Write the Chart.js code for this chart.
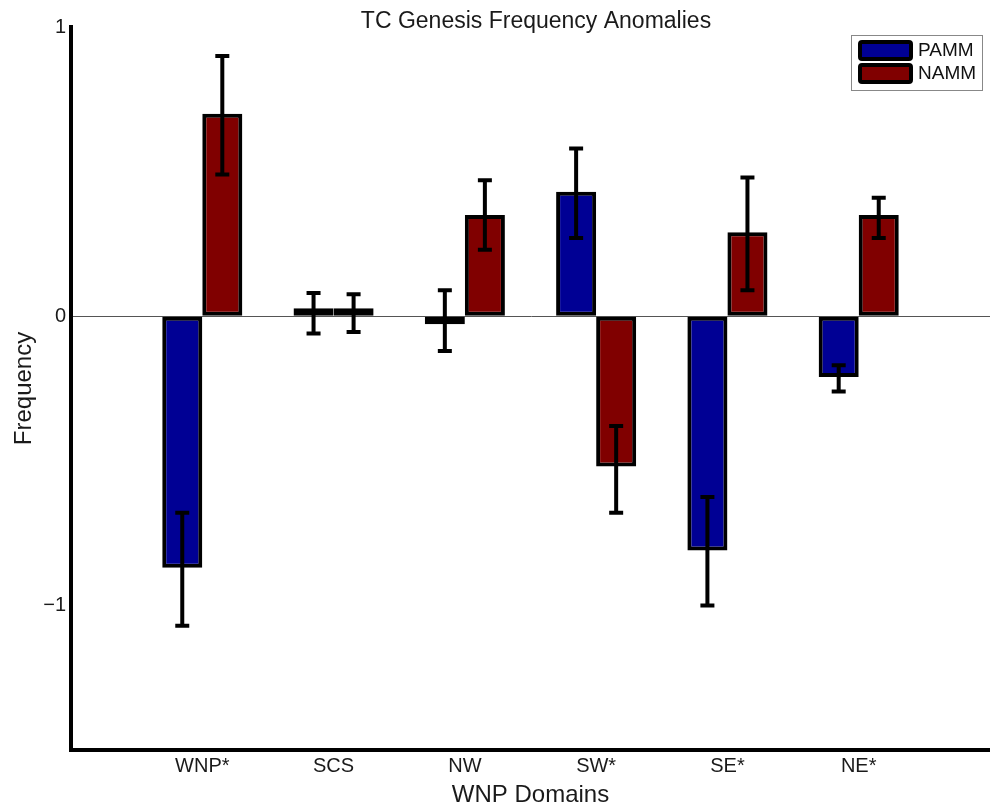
<html lang="en">
<head>
  <meta charset="UTF-8">
  <title>TC Genesis Frequency Anomalies</title>
  <script src="https://cdn.jsdelivr.net/npm/chart.js"></script>
  <style>
    body, html {
      margin: 0;
      padding: 0;
      background-color: #ffffff;
      font-family: "Liberation Sans", Arial, sans-serif;
    }
    .chart-container {
      width: 990px;
      height: 810px;
    }
  </style>
</head>
<body>
  <div class="chart-container"><canvas id="myChart" width="990" height="810"></canvas></div>

  <script>
    // data
    const categories = ['WNP*', 'SCS', 'NW', 'SW*', 'SE*', 'NE*'];
    const pamm = [-0.87, 0.01, -0.01, 0.43, -0.81, -0.21];
    const namm = [0.70, 0.01, 0.35, -0.52, 0.29, 0.35];
    const pammLow = [-1.07, -0.06, -0.12, 0.27, -1.00, -0.26];
    const pammHigh = [-0.68, 0.08, 0.09, 0.58, -0.625, -0.17];
    const nammLow = [0.49, -0.055, 0.23, -0.68, 0.09, 0.27];
    const nammHigh = [0.90, 0.076, 0.47, -0.38, 0.48, 0.41];
    const yTicks = [-1, 0, 1];

    // blank slots at both ends so the axis runs a bit past the outer groups
    const labels = [''].concat(categories, ['']);
    const pad = arr => [null].concat(arr, [null]);

    const FONT = '"Liberation Sans", Arial, sans-serif';

    const errorBars = {
      id: 'errorBars',
      afterDatasetsDraw(chart) {
        const ctx = chart.ctx;
        const y = chart.scales.y;
        const ranges = [[pammLow, pammHigh], [nammLow, nammHigh]];
        ctx.save();
        ctx.strokeStyle = '#000';
        ctx.lineWidth = 4;
        ranges.forEach((r, di) => {
          const meta = chart.getDatasetMeta(di);
          categories.forEach((c, i) => {
            const bar = meta.data[i + 1];
            const x = bar.x;
            const y1 = y.getPixelForValue(r[0][i]);
            const y2 = y.getPixelForValue(r[1][i]);
            ctx.beginPath();
            ctx.moveTo(x, y1); ctx.lineTo(x, y2);
            ctx.moveTo(x - 7, y1); ctx.lineTo(x + 7, y1);
            ctx.moveTo(x - 7, y2); ctx.lineTo(x + 7, y2);
            ctx.stroke();
          });
        });
        ctx.restore();
      }
    };

    const boxLegend = {
      id: 'boxLegend',
      afterDraw(chart) {
        const ctx = chart.ctx;
        ctx.save();
        // title
        ctx.fillStyle = '#1a1a1a';
        ctx.font = '23px ' + FONT;
        ctx.textAlign = 'center';
        ctx.textBaseline = 'middle';
        ctx.fillText('TC Genesis Frequency Anomalies', 536, 22);

        // legend
        ctx.strokeStyle = '#888';
        ctx.lineWidth = 1;
        ctx.strokeRect(851.5, 35.5, 131, 55);
        chart.data.datasets.forEach((ds, i) => {
          const top = 40 + i * 23;
          ctx.fillStyle = ds.backgroundColor;
          ctx.strokeStyle = '#000';
          ctx.lineWidth = 4;
          ctx.beginPath();
          ctx.roundRect(860, top + 2, 51, 17, 2);
          ctx.fill();
          ctx.stroke();
          ctx.fillStyle = '#111';
          ctx.textAlign = 'left';
          ctx.font = '19px ' + FONT;
          ctx.fillText(ds.label, 918, top + 11);
        });
        ctx.restore();
      }
    };

    const ctx = document.getElementById('myChart').getContext('2d');
    const myChart = new Chart(ctx, {
      type: 'bar',
      data: {
        labels: labels,
        datasets: [
          {
            label: 'PAMM',
            data: pad(pamm),
            backgroundColor: '#000094',
            borderColor: '#000',
            borderWidth: 4,
            borderSkipped: false,
            minBarLength: 8
          },
          {
            label: 'NAMM',
            data: pad(namm),
            backgroundColor: '#800000',
            borderColor: '#000',
            borderWidth: 4,
            borderSkipped: false,
            minBarLength: 8
          }
        ]
      },
      options: {
        responsive: false,
        animation: false,
        categoryPercentage: 0.61,
        barPercentage: 1,
        layout: { padding: { top: 27, right: 0, left: 0, bottom: 0 } },
        plugins: {
          legend: { display: false },
          title: { display: false },
          tooltip: { enabled: false }
        },
        scales: {
          x: {
            offset: false,
            grid: { display: false, drawTicks: false },
            border: { display: true, color: '#000', width: 4 },
            ticks: {
              color: '#1a1a1a',
              font: { family: FONT, size: 20 },
              padding: 4,
              autoSkip: false,
              maxRotation: 0
            },
            title: {
              display: true,
              text: 'WNP Domains',
              color: '#1a1a1a',
              font: { family: FONT, size: 24 },
              padding: { top: 0, bottom: 0 }
            },
            afterFit(scale) {
              scale.height = 60;
              scale.paddingLeft = 0;
              scale.paddingRight = 0;
            }
          },
          y: {
            min: -1.5,
            max: 1,
            afterBuildTicks(scale) {
              scale.ticks = yTicks.map(v => ({ value: v }));
            },
            grid: {
              drawTicks: false,
              color: c => (c.tick && c.tick.value === 0 ? '#555' : 'rgba(0,0,0,0)'),
              lineWidth: 1
            },
            border: { display: true, color: '#000', width: 4 },
            ticks: {
              color: '#1a1a1a',
              font: { family: FONT, size: 20 },
              padding: 5,
              callback: v => (v < 0 ? '\u2212' + Math.abs(v) : String(v))
            },
            title: {
              display: true,
              text: 'Frequency',
              color: '#1a1a1a',
              font: { family: FONT, size: 24 },
              padding: { top: 10, bottom: 0 }
            },
            afterFit(scale) { scale.width = 71; }
          }
        }
      },
      plugins: [errorBars, boxLegend]
    });
  </script>
</body>
</html>
